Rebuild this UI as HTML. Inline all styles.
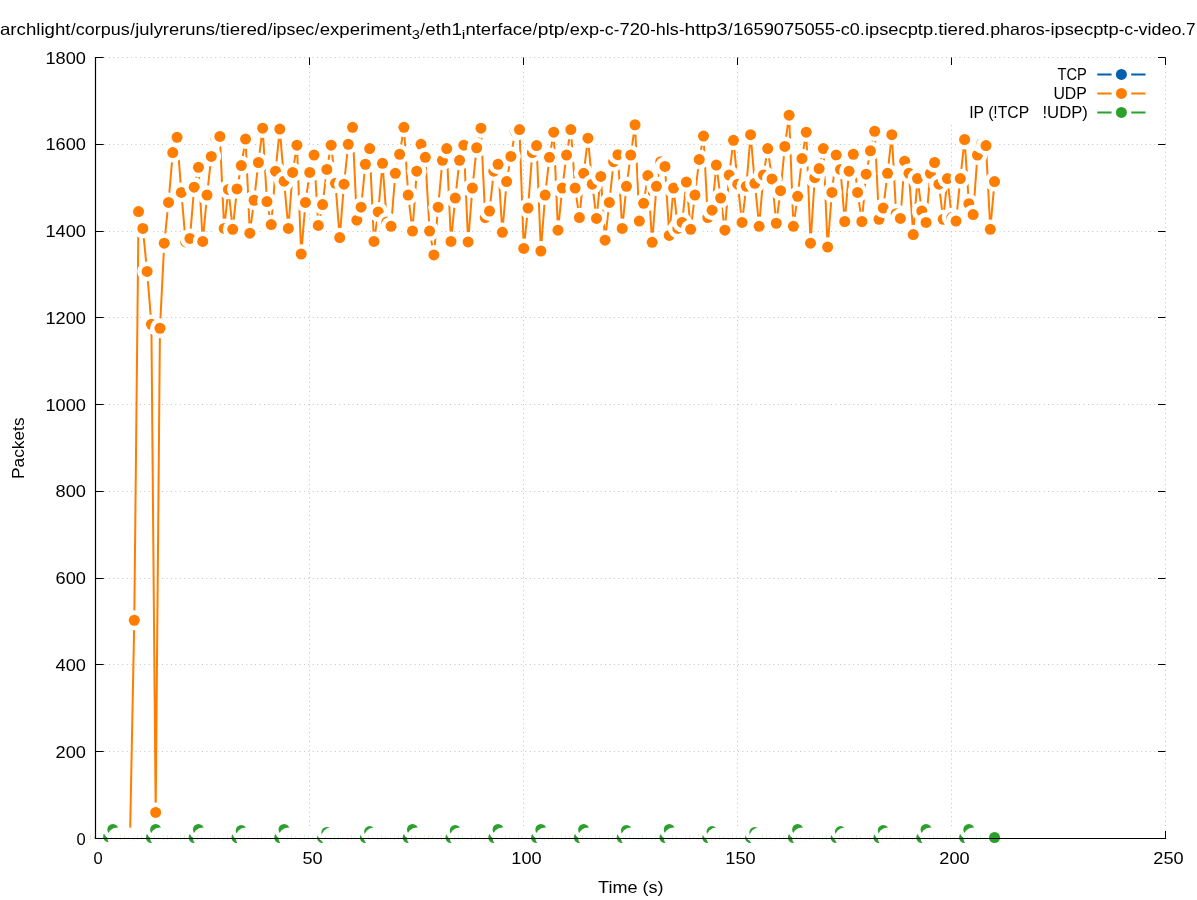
<!DOCTYPE html>
<html><head><meta charset="utf-8"><title>Packets over time</title>
<style>
html,body{margin:0;padding:0;background:#fff;}
body{width:1197px;height:900px;overflow:hidden;position:relative;font-family:"Liberation Sans",sans-serif;}
</style></head><body>
<div style="position:absolute;left:0;top:0;width:1197px;height:900px;will-change:transform">
<svg width="1197" height="900" viewBox="0 0 1197 900" style="display:block;position:absolute;left:0;top:0">
<rect width="1197" height="900" fill="#fff"/>
<g><path d="M104.5,838.5 H1165.5" stroke="#c2c2c2" stroke-width="1" stroke-dasharray="1 3.43" fill="none"/><path d="M104.5,751.5 H1165.5" stroke="#c2c2c2" stroke-width="1" stroke-dasharray="1 3.43" fill="none"/><path d="M104.5,664.5 H1165.5" stroke="#c2c2c2" stroke-width="1" stroke-dasharray="1 3.43" fill="none"/><path d="M104.5,578.5 H1165.5" stroke="#c2c2c2" stroke-width="1" stroke-dasharray="1 3.43" fill="none"/><path d="M104.5,491.5 H1165.5" stroke="#c2c2c2" stroke-width="1" stroke-dasharray="1 3.43" fill="none"/><path d="M104.5,404.5 H1165.5" stroke="#c2c2c2" stroke-width="1" stroke-dasharray="1 3.43" fill="none"/><path d="M104.5,317.5 H1165.5" stroke="#c2c2c2" stroke-width="1" stroke-dasharray="1 3.43" fill="none"/><path d="M104.5,231.5 H1165.5" stroke="#c2c2c2" stroke-width="1" stroke-dasharray="1 3.43" fill="none"/><path d="M104.5,144.5 H1165.5" stroke="#c2c2c2" stroke-width="1" stroke-dasharray="1 3.43" fill="none"/><path d="M104.5,57.5 H1165.5" stroke="#c2c2c2" stroke-width="1" stroke-dasharray="1 3.43" fill="none"/><path d="M309.5,830.5 V57.5" stroke="#c2c2c2" stroke-width="1" stroke-dasharray="1 3.43" fill="none"/><path d="M523.5,830.5 V57.5" stroke="#c2c2c2" stroke-width="1" stroke-dasharray="1 3.43" fill="none"/><path d="M737.5,830.5 V57.5" stroke="#c2c2c2" stroke-width="1" stroke-dasharray="1 3.43" fill="none"/><path d="M951.5,830.5 V123.5" stroke="#c2c2c2" stroke-width="1" stroke-dasharray="1 3.43" fill="none"/><path d="M1165.5,830.5 V57.5" stroke="#c2c2c2" stroke-width="1" stroke-dasharray="1 3.43" fill="none"/></g>
<path d="M95.5,838.5 h8.2 M1165.5,838.5 h-7.5 M95.5,751.5 h8.2 M1165.5,751.5 h-7.5 M95.5,664.5 h8.2 M1165.5,664.5 h-7.5 M95.5,578.5 h8.2 M1165.5,578.5 h-7.5 M95.5,491.5 h8.2 M1165.5,491.5 h-7.5 M95.5,404.5 h8.2 M1165.5,404.5 h-7.5 M95.5,317.5 h8.2 M1165.5,317.5 h-7.5 M95.5,231.5 h8.2 M1165.5,231.5 h-7.5 M95.5,144.5 h8.2 M1165.5,144.5 h-7.5 M95.5,57.5 h8.2 M1165.5,57.5 h-7.5 M95.5,838.5 v-7.5 M95.5,57.5 v7.5 M309.5,838.5 v-7.5 M309.5,57.5 v7.5 M523.5,838.5 v-7.5 M523.5,57.5 v7.5 M737.5,838.5 v-7.5 M737.5,57.5 v7.5 M951.5,838.5 v-7.5 M951.5,57.5 v7.5 M1165.5,838.5 v-7.5 M1165.5,57.5 v7.5" stroke="#000" stroke-width="1" fill="none"/>
<g font-family="'Liberation Sans', sans-serif" fill="#000"><text x="0.0" y="35" font-size="16.5" text-anchor="start" textLength="70.49" lengthAdjust="spacingAndGlyphs">archlight</text>
<text x="70.9" y="35" font-size="16.5" text-anchor="start">/</text>
<text x="75.89" y="35" font-size="16.5" text-anchor="start" textLength="53.85" lengthAdjust="spacingAndGlyphs">corpus</text>
<text x="130.14" y="35" font-size="16.5" text-anchor="start">/</text>
<text x="135.29" y="35" font-size="16.5" text-anchor="start" textLength="79.68" lengthAdjust="spacingAndGlyphs">julyreruns</text>
<text x="215.37" y="35" font-size="16.5" text-anchor="start">/</text>
<text x="220.36" y="35" font-size="16.5" text-anchor="start" textLength="46.89" lengthAdjust="spacingAndGlyphs">tiered</text>
<text x="267.65" y="35" font-size="16.5" text-anchor="start">/</text>
<text x="272.65" y="35" font-size="16.5" text-anchor="start" textLength="41.66" lengthAdjust="spacingAndGlyphs">ipsec</text>
<text x="314.72" y="35" font-size="16.5" text-anchor="start">/</text>
<text x="319.71" y="35" font-size="16.5" text-anchor="start" textLength="92.08" lengthAdjust="spacingAndGlyphs">experiment</text>
<text x="411.79" y="38.8" font-size="13.0" text-anchor="start" textLength="8.16" lengthAdjust="spacingAndGlyphs">3</text>
<text x="420.36" y="35" font-size="16.5" text-anchor="start">/</text>
<text x="425.35" y="35" font-size="16.5" text-anchor="start" textLength="36.49" lengthAdjust="spacingAndGlyphs">eth1</text>
<text x="461.85" y="38.8" font-size="13.0" text-anchor="start" textLength="3.57" lengthAdjust="spacingAndGlyphs">i</text>
<text x="465.41" y="35" font-size="16.5" text-anchor="start" textLength="67.02" lengthAdjust="spacingAndGlyphs">nterface</text>
<text x="532.83" y="35" font-size="16.5" text-anchor="start">/</text>
<text x="537.83" y="35" font-size="16.5" text-anchor="start" textLength="26.63" lengthAdjust="spacingAndGlyphs">ptp</text>
<text x="564.86" y="35" font-size="16.5" text-anchor="start">/</text>
<text x="569.85" y="35" font-size="16.5" text-anchor="start" textLength="29.24" lengthAdjust="spacingAndGlyphs">exp</text>
<text x="599.23" y="35" font-size="16.5" text-anchor="start">-</text>
<text x="604.87" y="35" font-size="16.5" text-anchor="start" textLength="8.81" lengthAdjust="spacingAndGlyphs">c</text>
<text x="613.82" y="35" font-size="16.5" text-anchor="start">-</text>
<text x="619.46" y="35" font-size="16.5" text-anchor="start" textLength="30.59" lengthAdjust="spacingAndGlyphs">720</text>
<text x="650.19" y="35" font-size="16.5" text-anchor="start">-</text>
<text x="655.83" y="35" font-size="16.5" text-anchor="start" textLength="22.96" lengthAdjust="spacingAndGlyphs">hls</text>
<text x="678.93" y="35" font-size="16.5" text-anchor="start">-</text>
<text x="684.57" y="35" font-size="16.5" text-anchor="start" textLength="43.09" lengthAdjust="spacingAndGlyphs">http3</text>
<text x="728.07" y="35" font-size="16.5" text-anchor="start">/</text>
<text x="733.06" y="35" font-size="16.5" text-anchor="start" textLength="101.95" lengthAdjust="spacingAndGlyphs">1659075055</text>
<text x="835.16" y="35" font-size="16.5" text-anchor="start">-</text>
<text x="840.8" y="35" font-size="16.5" text-anchor="start" textLength="19.01" lengthAdjust="spacingAndGlyphs">c0</text>
<text x="860.06" y="35" font-size="16.5" text-anchor="start">.</text>
<text x="864.9" y="35" font-size="16.5" text-anchor="start" textLength="68.28" lengthAdjust="spacingAndGlyphs">ipsecptp</text>
<text x="933.42" y="35" font-size="16.5" text-anchor="start">.</text>
<text x="938.26" y="35" font-size="16.5" text-anchor="start" textLength="46.82" lengthAdjust="spacingAndGlyphs">tiered</text>
<text x="985.32" y="35" font-size="16.5" text-anchor="start">.</text>
<text x="990.16" y="35" font-size="16.5" text-anchor="start" textLength="54.48" lengthAdjust="spacingAndGlyphs">pharos</text>
<text x="1044.78" y="35" font-size="16.5" text-anchor="start">-</text>
<text x="1050.41" y="35" font-size="16.5" text-anchor="start" textLength="68.2" lengthAdjust="spacingAndGlyphs">ipsecptp</text>
<text x="1118.75" y="35" font-size="16.5" text-anchor="start">-</text>
<text x="1124.39" y="35" font-size="16.5" text-anchor="start" textLength="8.8" lengthAdjust="spacingAndGlyphs">c</text>
<text x="1133.31" y="35" font-size="16.5" text-anchor="start">-</text>
<text x="1138.5" y="35" font-size="16.5" text-anchor="start" textLength="42.89" lengthAdjust="spacingAndGlyphs">video</text>
<text x="1181.25" y="35" font-size="16.5" text-anchor="start">.</text>
<text x="1185.99" y="35" font-size="16.5" text-anchor="start" textLength="9.55" lengthAdjust="spacingAndGlyphs">7</text>
<text x="85.7" y="844.5" font-size="16.5" text-anchor="end">0</text>
<text x="86.0" y="757.7" font-size="16.5" text-anchor="end" textLength="30.4" lengthAdjust="spacingAndGlyphs">200</text>
<text x="86.0" y="670.9" font-size="16.5" text-anchor="end" textLength="30.4" lengthAdjust="spacingAndGlyphs">400</text>
<text x="86.0" y="584.2" font-size="16.5" text-anchor="end" textLength="30.4" lengthAdjust="spacingAndGlyphs">600</text>
<text x="86.0" y="497.4" font-size="16.5" text-anchor="end" textLength="30.4" lengthAdjust="spacingAndGlyphs">800</text>
<text x="86.0" y="410.6" font-size="16.5" text-anchor="end" textLength="40.6" lengthAdjust="spacingAndGlyphs">1000</text>
<text x="86.0" y="323.8" font-size="16.5" text-anchor="end" textLength="40.6" lengthAdjust="spacingAndGlyphs">1200</text>
<text x="86.0" y="237.1" font-size="16.5" text-anchor="end" textLength="40.6" lengthAdjust="spacingAndGlyphs">1400</text>
<text x="86.0" y="150.3" font-size="16.5" text-anchor="end" textLength="40.6" lengthAdjust="spacingAndGlyphs">1600</text>
<text x="86.0" y="63.5" font-size="16.5" text-anchor="end" textLength="40.6" lengthAdjust="spacingAndGlyphs">1800</text>
<text x="98.1" y="864" font-size="16.5" text-anchor="middle">0</text>
<text x="312.5" y="864" font-size="16.5" text-anchor="middle" textLength="20.2" lengthAdjust="spacingAndGlyphs">50</text>
<text x="526.5" y="864" font-size="16.5" text-anchor="middle" textLength="30.3" lengthAdjust="spacingAndGlyphs">100</text>
<text x="740.5" y="864" font-size="16.5" text-anchor="middle" textLength="30.3" lengthAdjust="spacingAndGlyphs">150</text>
<text x="954.5" y="864" font-size="16.5" text-anchor="middle" textLength="30.3" lengthAdjust="spacingAndGlyphs">200</text>
<text x="1168.5" y="864" font-size="16.5" text-anchor="middle" textLength="30.3" lengthAdjust="spacingAndGlyphs">250</text>
<text x="630.8" y="892.5" font-size="16.5" text-anchor="middle" textLength="65.5" lengthAdjust="spacingAndGlyphs">Time (s)</text>
<text transform="translate(24.0,448.2) rotate(-90)" font-size="16.5" text-anchor="middle" textLength="61.5" lengthAdjust="spacingAndGlyphs">Packets</text>
<text x="1086.8" y="79.8" font-size="16.5" text-anchor="end" textLength="29.3" lengthAdjust="spacingAndGlyphs">TCP</text>
<text x="1086.8" y="98.8" font-size="16.5" text-anchor="end" textLength="33.4" lengthAdjust="spacingAndGlyphs">UDP</text>
<text x="969.2" y="117.8" font-size="16.5" text-anchor="start" textLength="60" lengthAdjust="spacingAndGlyphs">IP (!TCP</text>
<text x="1087.8" y="117.8" font-size="16.5" text-anchor="end" textLength="45.3" lengthAdjust="spacingAndGlyphs">!UDP)</text></g>
<path d="M1097.3,74.4 H1145.5" stroke="#0060ad" stroke-width="2"/><circle cx="1121.4" cy="74.4" r="9.9" fill="#fff"/><circle cx="1121.4" cy="74.4" r="5.5" fill="#0060ad"/>
<path d="M1097.3,93.4 H1145.5" stroke="#ff7d00" stroke-width="2"/><circle cx="1121.4" cy="93.4" r="9.9" fill="#fff"/><circle cx="1121.4" cy="93.4" r="5.5" fill="#ff7d00"/>
<path d="M1097.3,112.4 H1145.5" stroke="#2ca02c" stroke-width="2"/><circle cx="1121.4" cy="112.4" r="9.9" fill="#fff"/><circle cx="1121.4" cy="112.4" r="5.5" fill="#2ca02c"/>
<g id="udp"><path d="M129.99,838.50 L134.27,620.25 L138.55,211.53 L142.83,228.45 L147.11,271.41 L151.39,324.34 L155.67,812.47 L159.95,328.25 L164.23,243.20 L168.51,202.42 L172.79,152.52 L177.07,137.34 L181.35,192.44 L185.63,241.90 L189.91,238.43 L194.19,187.23 L198.47,167.27 L202.75,241.47 L207.03,195.04 L211.31,156.43 L215.59,137.77 L219.87,136.47 L224.15,228.45 L228.43,189.40 L232.71,229.32 L236.99,188.97 L241.27,165.54 L245.55,139.07 L249.83,233.23 L254.11,200.25 L258.39,162.50 L262.67,128.22 L266.95,201.55 L271.23,224.55 L275.51,171.18 L279.79,129.09 L284.07,181.16 L288.35,228.45 L292.63,172.48 L296.91,145.15 L301.19,254.05 L305.47,202.42 L309.75,172.48 L314.03,155.12 L318.31,225.41 L322.59,204.59 L326.87,169.44 L331.15,145.15 L335.43,183.33 L339.71,237.56 L343.99,184.20 L348.27,144.28 L352.55,127.36 L356.83,220.21 L361.11,207.19 L365.39,164.24 L369.67,148.62 L373.95,241.47 L378.23,211.96 L382.51,163.37 L386.79,221.94 L391.07,226.28 L395.35,173.35 L399.63,154.26 L403.91,127.36 L408.19,195.04 L412.47,231.06 L416.75,171.18 L421.03,144.28 L425.31,157.29 L429.59,231.06 L433.87,254.92 L438.15,207.19 L442.43,160.33 L446.71,148.62 L450.99,241.47 L455.27,198.08 L459.55,160.33 L463.83,145.15 L468.11,241.90 L472.39,188.10 L476.67,147.75 L480.95,128.22 L485.23,217.61 L489.51,211.10 L493.79,171.18 L498.07,164.24 L502.35,232.36 L506.63,181.59 L510.91,156.43 L515.19,131.26 L519.47,129.53 L523.75,248.41 L528.03,208.06 L532.31,152.52 L536.59,145.58 L540.87,251.01 L545.15,195.04 L549.43,157.29 L553.71,132.13 L557.99,230.19 L562.27,188.10 L566.55,155.12 L570.83,129.53 L575.11,188.10 L579.39,217.61 L583.67,173.35 L587.95,138.20 L592.23,184.20 L596.51,218.47 L600.79,176.39 L605.07,240.17 L609.35,202.42 L613.63,161.63 L617.91,154.69 L622.19,228.45 L626.47,186.37 L630.75,155.12 L635.03,124.75 L639.31,221.08 L643.59,203.29 L647.87,175.52 L652.15,242.34 L656.43,186.37 L660.71,161.63 L664.99,166.41 L669.27,235.39 L673.55,188.10 L677.83,228.45 L682.11,222.38 L686.39,182.03 L690.67,229.32 L694.95,195.04 L699.23,159.46 L703.51,136.03 L707.79,217.61 L712.07,210.23 L716.35,165.10 L720.63,198.08 L724.91,230.19 L729.19,175.08 L733.47,140.37 L737.75,184.20 L742.03,222.38 L746.31,186.37 L750.59,134.73 L754.87,183.33 L759.15,226.28 L763.43,175.08 L767.71,148.62 L771.99,178.99 L776.27,223.25 L780.55,190.70 L784.83,146.45 L789.11,115.21 L793.39,226.28 L797.67,196.34 L801.95,158.60 L806.23,132.13 L810.51,243.20 L814.79,177.69 L819.07,168.58 L823.35,148.62 L827.63,247.11 L831.91,192.44 L836.19,155.12 L840.47,169.44 L844.75,221.51 L849.03,171.18 L853.31,154.26 L857.59,192.44 L861.87,221.51 L866.15,174.22 L870.43,150.79 L874.71,131.26 L878.99,219.34 L883.27,208.06 L887.55,173.35 L891.83,134.73 L896.11,213.70 L900.39,218.47 L904.67,161.20 L908.95,173.35 L913.23,234.53 L917.51,178.55 L921.79,211.10 L926.07,222.38 L930.35,173.35 L934.63,162.50 L938.91,184.20 L943.19,219.34 L947.47,178.55 L951.75,217.61 L956.03,221.08 L960.31,178.55 L964.59,139.50 L968.87,203.72 L973.15,214.57 L977.43,155.12 L981.71,143.41 L985.99,145.58 L990.27,229.32 L994.55,181.59" fill="none" stroke="#ff7d00" stroke-width="2" stroke-linejoin="round"/>
<circle cx="129.99" cy="838.50" r="9.9" fill="#fff"/><circle cx="129.99" cy="838.50" r="5.5" fill="#ff7d00"/>
<circle cx="134.27" cy="620.25" r="9.9" fill="#fff"/><circle cx="134.27" cy="620.25" r="5.5" fill="#ff7d00"/>
<circle cx="138.55" cy="211.53" r="9.9" fill="#fff"/><circle cx="138.55" cy="211.53" r="5.5" fill="#ff7d00"/>
<circle cx="142.83" cy="228.45" r="9.9" fill="#fff"/><circle cx="142.83" cy="228.45" r="5.5" fill="#ff7d00"/>
<circle cx="147.11" cy="271.41" r="9.9" fill="#fff"/><circle cx="147.11" cy="271.41" r="5.5" fill="#ff7d00"/>
<circle cx="151.39" cy="324.34" r="9.9" fill="#fff"/><circle cx="151.39" cy="324.34" r="5.5" fill="#ff7d00"/>
<circle cx="155.67" cy="812.47" r="9.9" fill="#fff"/><circle cx="155.67" cy="812.47" r="5.5" fill="#ff7d00"/>
<circle cx="159.95" cy="328.25" r="9.9" fill="#fff"/><circle cx="159.95" cy="328.25" r="5.5" fill="#ff7d00"/>
<circle cx="164.23" cy="243.20" r="9.9" fill="#fff"/><circle cx="164.23" cy="243.20" r="5.5" fill="#ff7d00"/>
<circle cx="168.51" cy="202.42" r="9.9" fill="#fff"/><circle cx="168.51" cy="202.42" r="5.5" fill="#ff7d00"/>
<circle cx="172.79" cy="152.52" r="9.9" fill="#fff"/><circle cx="172.79" cy="152.52" r="5.5" fill="#ff7d00"/>
<circle cx="177.07" cy="137.34" r="9.9" fill="#fff"/><circle cx="177.07" cy="137.34" r="5.5" fill="#ff7d00"/>
<circle cx="181.35" cy="192.44" r="9.9" fill="#fff"/><circle cx="181.35" cy="192.44" r="5.5" fill="#ff7d00"/>
<circle cx="185.63" cy="241.90" r="9.9" fill="#fff"/><circle cx="185.63" cy="241.90" r="5.5" fill="#ff7d00"/>
<circle cx="189.91" cy="238.43" r="9.9" fill="#fff"/><circle cx="189.91" cy="238.43" r="5.5" fill="#ff7d00"/>
<circle cx="194.19" cy="187.23" r="9.9" fill="#fff"/><circle cx="194.19" cy="187.23" r="5.5" fill="#ff7d00"/>
<circle cx="198.47" cy="167.27" r="9.9" fill="#fff"/><circle cx="198.47" cy="167.27" r="5.5" fill="#ff7d00"/>
<circle cx="202.75" cy="241.47" r="9.9" fill="#fff"/><circle cx="202.75" cy="241.47" r="5.5" fill="#ff7d00"/>
<circle cx="207.03" cy="195.04" r="9.9" fill="#fff"/><circle cx="207.03" cy="195.04" r="5.5" fill="#ff7d00"/>
<circle cx="211.31" cy="156.43" r="9.9" fill="#fff"/><circle cx="211.31" cy="156.43" r="5.5" fill="#ff7d00"/>
<circle cx="215.59" cy="137.77" r="9.9" fill="#fff"/><circle cx="215.59" cy="137.77" r="5.5" fill="#ff7d00"/>
<circle cx="219.87" cy="136.47" r="9.9" fill="#fff"/><circle cx="219.87" cy="136.47" r="5.5" fill="#ff7d00"/>
<circle cx="224.15" cy="228.45" r="9.9" fill="#fff"/><circle cx="224.15" cy="228.45" r="5.5" fill="#ff7d00"/>
<circle cx="228.43" cy="189.40" r="9.9" fill="#fff"/><circle cx="228.43" cy="189.40" r="5.5" fill="#ff7d00"/>
<circle cx="232.71" cy="229.32" r="9.9" fill="#fff"/><circle cx="232.71" cy="229.32" r="5.5" fill="#ff7d00"/>
<circle cx="236.99" cy="188.97" r="9.9" fill="#fff"/><circle cx="236.99" cy="188.97" r="5.5" fill="#ff7d00"/>
<circle cx="241.27" cy="165.54" r="9.9" fill="#fff"/><circle cx="241.27" cy="165.54" r="5.5" fill="#ff7d00"/>
<circle cx="245.55" cy="139.07" r="9.9" fill="#fff"/><circle cx="245.55" cy="139.07" r="5.5" fill="#ff7d00"/>
<circle cx="249.83" cy="233.23" r="9.9" fill="#fff"/><circle cx="249.83" cy="233.23" r="5.5" fill="#ff7d00"/>
<circle cx="254.11" cy="200.25" r="9.9" fill="#fff"/><circle cx="254.11" cy="200.25" r="5.5" fill="#ff7d00"/>
<circle cx="258.39" cy="162.50" r="9.9" fill="#fff"/><circle cx="258.39" cy="162.50" r="5.5" fill="#ff7d00"/>
<circle cx="262.67" cy="128.22" r="9.9" fill="#fff"/><circle cx="262.67" cy="128.22" r="5.5" fill="#ff7d00"/>
<circle cx="266.95" cy="201.55" r="9.9" fill="#fff"/><circle cx="266.95" cy="201.55" r="5.5" fill="#ff7d00"/>
<circle cx="271.23" cy="224.55" r="9.9" fill="#fff"/><circle cx="271.23" cy="224.55" r="5.5" fill="#ff7d00"/>
<circle cx="275.51" cy="171.18" r="9.9" fill="#fff"/><circle cx="275.51" cy="171.18" r="5.5" fill="#ff7d00"/>
<circle cx="279.79" cy="129.09" r="9.9" fill="#fff"/><circle cx="279.79" cy="129.09" r="5.5" fill="#ff7d00"/>
<circle cx="284.07" cy="181.16" r="9.9" fill="#fff"/><circle cx="284.07" cy="181.16" r="5.5" fill="#ff7d00"/>
<circle cx="288.35" cy="228.45" r="9.9" fill="#fff"/><circle cx="288.35" cy="228.45" r="5.5" fill="#ff7d00"/>
<circle cx="292.63" cy="172.48" r="9.9" fill="#fff"/><circle cx="292.63" cy="172.48" r="5.5" fill="#ff7d00"/>
<circle cx="296.91" cy="145.15" r="9.9" fill="#fff"/><circle cx="296.91" cy="145.15" r="5.5" fill="#ff7d00"/>
<circle cx="301.19" cy="254.05" r="9.9" fill="#fff"/><circle cx="301.19" cy="254.05" r="5.5" fill="#ff7d00"/>
<circle cx="305.47" cy="202.42" r="9.9" fill="#fff"/><circle cx="305.47" cy="202.42" r="5.5" fill="#ff7d00"/>
<circle cx="309.75" cy="172.48" r="9.9" fill="#fff"/><circle cx="309.75" cy="172.48" r="5.5" fill="#ff7d00"/>
<circle cx="314.03" cy="155.12" r="9.9" fill="#fff"/><circle cx="314.03" cy="155.12" r="5.5" fill="#ff7d00"/>
<circle cx="318.31" cy="225.41" r="9.9" fill="#fff"/><circle cx="318.31" cy="225.41" r="5.5" fill="#ff7d00"/>
<circle cx="322.59" cy="204.59" r="9.9" fill="#fff"/><circle cx="322.59" cy="204.59" r="5.5" fill="#ff7d00"/>
<circle cx="326.87" cy="169.44" r="9.9" fill="#fff"/><circle cx="326.87" cy="169.44" r="5.5" fill="#ff7d00"/>
<circle cx="331.15" cy="145.15" r="9.9" fill="#fff"/><circle cx="331.15" cy="145.15" r="5.5" fill="#ff7d00"/>
<circle cx="335.43" cy="183.33" r="9.9" fill="#fff"/><circle cx="335.43" cy="183.33" r="5.5" fill="#ff7d00"/>
<circle cx="339.71" cy="237.56" r="9.9" fill="#fff"/><circle cx="339.71" cy="237.56" r="5.5" fill="#ff7d00"/>
<circle cx="343.99" cy="184.20" r="9.9" fill="#fff"/><circle cx="343.99" cy="184.20" r="5.5" fill="#ff7d00"/>
<circle cx="348.27" cy="144.28" r="9.9" fill="#fff"/><circle cx="348.27" cy="144.28" r="5.5" fill="#ff7d00"/>
<circle cx="352.55" cy="127.36" r="9.9" fill="#fff"/><circle cx="352.55" cy="127.36" r="5.5" fill="#ff7d00"/>
<circle cx="356.83" cy="220.21" r="9.9" fill="#fff"/><circle cx="356.83" cy="220.21" r="5.5" fill="#ff7d00"/>
<circle cx="361.11" cy="207.19" r="9.9" fill="#fff"/><circle cx="361.11" cy="207.19" r="5.5" fill="#ff7d00"/>
<circle cx="365.39" cy="164.24" r="9.9" fill="#fff"/><circle cx="365.39" cy="164.24" r="5.5" fill="#ff7d00"/>
<circle cx="369.67" cy="148.62" r="9.9" fill="#fff"/><circle cx="369.67" cy="148.62" r="5.5" fill="#ff7d00"/>
<circle cx="373.95" cy="241.47" r="9.9" fill="#fff"/><circle cx="373.95" cy="241.47" r="5.5" fill="#ff7d00"/>
<circle cx="378.23" cy="211.96" r="9.9" fill="#fff"/><circle cx="378.23" cy="211.96" r="5.5" fill="#ff7d00"/>
<circle cx="382.51" cy="163.37" r="9.9" fill="#fff"/><circle cx="382.51" cy="163.37" r="5.5" fill="#ff7d00"/>
<circle cx="386.79" cy="221.94" r="9.9" fill="#fff"/><circle cx="386.79" cy="221.94" r="5.5" fill="#ff7d00"/>
<circle cx="391.07" cy="226.28" r="9.9" fill="#fff"/><circle cx="391.07" cy="226.28" r="5.5" fill="#ff7d00"/>
<circle cx="395.35" cy="173.35" r="9.9" fill="#fff"/><circle cx="395.35" cy="173.35" r="5.5" fill="#ff7d00"/>
<circle cx="399.63" cy="154.26" r="9.9" fill="#fff"/><circle cx="399.63" cy="154.26" r="5.5" fill="#ff7d00"/>
<circle cx="403.91" cy="127.36" r="9.9" fill="#fff"/><circle cx="403.91" cy="127.36" r="5.5" fill="#ff7d00"/>
<circle cx="408.19" cy="195.04" r="9.9" fill="#fff"/><circle cx="408.19" cy="195.04" r="5.5" fill="#ff7d00"/>
<circle cx="412.47" cy="231.06" r="9.9" fill="#fff"/><circle cx="412.47" cy="231.06" r="5.5" fill="#ff7d00"/>
<circle cx="416.75" cy="171.18" r="9.9" fill="#fff"/><circle cx="416.75" cy="171.18" r="5.5" fill="#ff7d00"/>
<circle cx="421.03" cy="144.28" r="9.9" fill="#fff"/><circle cx="421.03" cy="144.28" r="5.5" fill="#ff7d00"/>
<circle cx="425.31" cy="157.29" r="9.9" fill="#fff"/><circle cx="425.31" cy="157.29" r="5.5" fill="#ff7d00"/>
<circle cx="429.59" cy="231.06" r="9.9" fill="#fff"/><circle cx="429.59" cy="231.06" r="5.5" fill="#ff7d00"/>
<circle cx="433.87" cy="254.92" r="9.9" fill="#fff"/><circle cx="433.87" cy="254.92" r="5.5" fill="#ff7d00"/>
<circle cx="438.15" cy="207.19" r="9.9" fill="#fff"/><circle cx="438.15" cy="207.19" r="5.5" fill="#ff7d00"/>
<circle cx="442.43" cy="160.33" r="9.9" fill="#fff"/><circle cx="442.43" cy="160.33" r="5.5" fill="#ff7d00"/>
<circle cx="446.71" cy="148.62" r="9.9" fill="#fff"/><circle cx="446.71" cy="148.62" r="5.5" fill="#ff7d00"/>
<circle cx="450.99" cy="241.47" r="9.9" fill="#fff"/><circle cx="450.99" cy="241.47" r="5.5" fill="#ff7d00"/>
<circle cx="455.27" cy="198.08" r="9.9" fill="#fff"/><circle cx="455.27" cy="198.08" r="5.5" fill="#ff7d00"/>
<circle cx="459.55" cy="160.33" r="9.9" fill="#fff"/><circle cx="459.55" cy="160.33" r="5.5" fill="#ff7d00"/>
<circle cx="463.83" cy="145.15" r="9.9" fill="#fff"/><circle cx="463.83" cy="145.15" r="5.5" fill="#ff7d00"/>
<circle cx="468.11" cy="241.90" r="9.9" fill="#fff"/><circle cx="468.11" cy="241.90" r="5.5" fill="#ff7d00"/>
<circle cx="472.39" cy="188.10" r="9.9" fill="#fff"/><circle cx="472.39" cy="188.10" r="5.5" fill="#ff7d00"/>
<circle cx="476.67" cy="147.75" r="9.9" fill="#fff"/><circle cx="476.67" cy="147.75" r="5.5" fill="#ff7d00"/>
<circle cx="480.95" cy="128.22" r="9.9" fill="#fff"/><circle cx="480.95" cy="128.22" r="5.5" fill="#ff7d00"/>
<circle cx="485.23" cy="217.61" r="9.9" fill="#fff"/><circle cx="485.23" cy="217.61" r="5.5" fill="#ff7d00"/>
<circle cx="489.51" cy="211.10" r="9.9" fill="#fff"/><circle cx="489.51" cy="211.10" r="5.5" fill="#ff7d00"/>
<circle cx="493.79" cy="171.18" r="9.9" fill="#fff"/><circle cx="493.79" cy="171.18" r="5.5" fill="#ff7d00"/>
<circle cx="498.07" cy="164.24" r="9.9" fill="#fff"/><circle cx="498.07" cy="164.24" r="5.5" fill="#ff7d00"/>
<circle cx="502.35" cy="232.36" r="9.9" fill="#fff"/><circle cx="502.35" cy="232.36" r="5.5" fill="#ff7d00"/>
<circle cx="506.63" cy="181.59" r="9.9" fill="#fff"/><circle cx="506.63" cy="181.59" r="5.5" fill="#ff7d00"/>
<circle cx="510.91" cy="156.43" r="9.9" fill="#fff"/><circle cx="510.91" cy="156.43" r="5.5" fill="#ff7d00"/>
<circle cx="515.19" cy="131.26" r="9.9" fill="#fff"/><circle cx="515.19" cy="131.26" r="5.5" fill="#ff7d00"/>
<circle cx="519.47" cy="129.53" r="9.9" fill="#fff"/><circle cx="519.47" cy="129.53" r="5.5" fill="#ff7d00"/>
<circle cx="523.75" cy="248.41" r="9.9" fill="#fff"/><circle cx="523.75" cy="248.41" r="5.5" fill="#ff7d00"/>
<circle cx="528.03" cy="208.06" r="9.9" fill="#fff"/><circle cx="528.03" cy="208.06" r="5.5" fill="#ff7d00"/>
<circle cx="532.31" cy="152.52" r="9.9" fill="#fff"/><circle cx="532.31" cy="152.52" r="5.5" fill="#ff7d00"/>
<circle cx="536.59" cy="145.58" r="9.9" fill="#fff"/><circle cx="536.59" cy="145.58" r="5.5" fill="#ff7d00"/>
<circle cx="540.87" cy="251.01" r="9.9" fill="#fff"/><circle cx="540.87" cy="251.01" r="5.5" fill="#ff7d00"/>
<circle cx="545.15" cy="195.04" r="9.9" fill="#fff"/><circle cx="545.15" cy="195.04" r="5.5" fill="#ff7d00"/>
<circle cx="549.43" cy="157.29" r="9.9" fill="#fff"/><circle cx="549.43" cy="157.29" r="5.5" fill="#ff7d00"/>
<circle cx="553.71" cy="132.13" r="9.9" fill="#fff"/><circle cx="553.71" cy="132.13" r="5.5" fill="#ff7d00"/>
<circle cx="557.99" cy="230.19" r="9.9" fill="#fff"/><circle cx="557.99" cy="230.19" r="5.5" fill="#ff7d00"/>
<circle cx="562.27" cy="188.10" r="9.9" fill="#fff"/><circle cx="562.27" cy="188.10" r="5.5" fill="#ff7d00"/>
<circle cx="566.55" cy="155.12" r="9.9" fill="#fff"/><circle cx="566.55" cy="155.12" r="5.5" fill="#ff7d00"/>
<circle cx="570.83" cy="129.53" r="9.9" fill="#fff"/><circle cx="570.83" cy="129.53" r="5.5" fill="#ff7d00"/>
<circle cx="575.11" cy="188.10" r="9.9" fill="#fff"/><circle cx="575.11" cy="188.10" r="5.5" fill="#ff7d00"/>
<circle cx="579.39" cy="217.61" r="9.9" fill="#fff"/><circle cx="579.39" cy="217.61" r="5.5" fill="#ff7d00"/>
<circle cx="583.67" cy="173.35" r="9.9" fill="#fff"/><circle cx="583.67" cy="173.35" r="5.5" fill="#ff7d00"/>
<circle cx="587.95" cy="138.20" r="9.9" fill="#fff"/><circle cx="587.95" cy="138.20" r="5.5" fill="#ff7d00"/>
<circle cx="592.23" cy="184.20" r="9.9" fill="#fff"/><circle cx="592.23" cy="184.20" r="5.5" fill="#ff7d00"/>
<circle cx="596.51" cy="218.47" r="9.9" fill="#fff"/><circle cx="596.51" cy="218.47" r="5.5" fill="#ff7d00"/>
<circle cx="600.79" cy="176.39" r="9.9" fill="#fff"/><circle cx="600.79" cy="176.39" r="5.5" fill="#ff7d00"/>
<circle cx="605.07" cy="240.17" r="9.9" fill="#fff"/><circle cx="605.07" cy="240.17" r="5.5" fill="#ff7d00"/>
<circle cx="609.35" cy="202.42" r="9.9" fill="#fff"/><circle cx="609.35" cy="202.42" r="5.5" fill="#ff7d00"/>
<circle cx="613.63" cy="161.63" r="9.9" fill="#fff"/><circle cx="613.63" cy="161.63" r="5.5" fill="#ff7d00"/>
<circle cx="617.91" cy="154.69" r="9.9" fill="#fff"/><circle cx="617.91" cy="154.69" r="5.5" fill="#ff7d00"/>
<circle cx="622.19" cy="228.45" r="9.9" fill="#fff"/><circle cx="622.19" cy="228.45" r="5.5" fill="#ff7d00"/>
<circle cx="626.47" cy="186.37" r="9.9" fill="#fff"/><circle cx="626.47" cy="186.37" r="5.5" fill="#ff7d00"/>
<circle cx="630.75" cy="155.12" r="9.9" fill="#fff"/><circle cx="630.75" cy="155.12" r="5.5" fill="#ff7d00"/>
<circle cx="635.03" cy="124.75" r="9.9" fill="#fff"/><circle cx="635.03" cy="124.75" r="5.5" fill="#ff7d00"/>
<circle cx="639.31" cy="221.08" r="9.9" fill="#fff"/><circle cx="639.31" cy="221.08" r="5.5" fill="#ff7d00"/>
<circle cx="643.59" cy="203.29" r="9.9" fill="#fff"/><circle cx="643.59" cy="203.29" r="5.5" fill="#ff7d00"/>
<circle cx="647.87" cy="175.52" r="9.9" fill="#fff"/><circle cx="647.87" cy="175.52" r="5.5" fill="#ff7d00"/>
<circle cx="652.15" cy="242.34" r="9.9" fill="#fff"/><circle cx="652.15" cy="242.34" r="5.5" fill="#ff7d00"/>
<circle cx="656.43" cy="186.37" r="9.9" fill="#fff"/><circle cx="656.43" cy="186.37" r="5.5" fill="#ff7d00"/>
<circle cx="660.71" cy="161.63" r="9.9" fill="#fff"/><circle cx="660.71" cy="161.63" r="5.5" fill="#ff7d00"/>
<circle cx="664.99" cy="166.41" r="9.9" fill="#fff"/><circle cx="664.99" cy="166.41" r="5.5" fill="#ff7d00"/>
<circle cx="669.27" cy="235.39" r="9.9" fill="#fff"/><circle cx="669.27" cy="235.39" r="5.5" fill="#ff7d00"/>
<circle cx="673.55" cy="188.10" r="9.9" fill="#fff"/><circle cx="673.55" cy="188.10" r="5.5" fill="#ff7d00"/>
<circle cx="677.83" cy="228.45" r="9.9" fill="#fff"/><circle cx="677.83" cy="228.45" r="5.5" fill="#ff7d00"/>
<circle cx="682.11" cy="222.38" r="9.9" fill="#fff"/><circle cx="682.11" cy="222.38" r="5.5" fill="#ff7d00"/>
<circle cx="686.39" cy="182.03" r="9.9" fill="#fff"/><circle cx="686.39" cy="182.03" r="5.5" fill="#ff7d00"/>
<circle cx="690.67" cy="229.32" r="9.9" fill="#fff"/><circle cx="690.67" cy="229.32" r="5.5" fill="#ff7d00"/>
<circle cx="694.95" cy="195.04" r="9.9" fill="#fff"/><circle cx="694.95" cy="195.04" r="5.5" fill="#ff7d00"/>
<circle cx="699.23" cy="159.46" r="9.9" fill="#fff"/><circle cx="699.23" cy="159.46" r="5.5" fill="#ff7d00"/>
<circle cx="703.51" cy="136.03" r="9.9" fill="#fff"/><circle cx="703.51" cy="136.03" r="5.5" fill="#ff7d00"/>
<circle cx="707.79" cy="217.61" r="9.9" fill="#fff"/><circle cx="707.79" cy="217.61" r="5.5" fill="#ff7d00"/>
<circle cx="712.07" cy="210.23" r="9.9" fill="#fff"/><circle cx="712.07" cy="210.23" r="5.5" fill="#ff7d00"/>
<circle cx="716.35" cy="165.10" r="9.9" fill="#fff"/><circle cx="716.35" cy="165.10" r="5.5" fill="#ff7d00"/>
<circle cx="720.63" cy="198.08" r="9.9" fill="#fff"/><circle cx="720.63" cy="198.08" r="5.5" fill="#ff7d00"/>
<circle cx="724.91" cy="230.19" r="9.9" fill="#fff"/><circle cx="724.91" cy="230.19" r="5.5" fill="#ff7d00"/>
<circle cx="729.19" cy="175.08" r="9.9" fill="#fff"/><circle cx="729.19" cy="175.08" r="5.5" fill="#ff7d00"/>
<circle cx="733.47" cy="140.37" r="9.9" fill="#fff"/><circle cx="733.47" cy="140.37" r="5.5" fill="#ff7d00"/>
<circle cx="737.75" cy="184.20" r="9.9" fill="#fff"/><circle cx="737.75" cy="184.20" r="5.5" fill="#ff7d00"/>
<circle cx="742.03" cy="222.38" r="9.9" fill="#fff"/><circle cx="742.03" cy="222.38" r="5.5" fill="#ff7d00"/>
<circle cx="746.31" cy="186.37" r="9.9" fill="#fff"/><circle cx="746.31" cy="186.37" r="5.5" fill="#ff7d00"/>
<circle cx="750.59" cy="134.73" r="9.9" fill="#fff"/><circle cx="750.59" cy="134.73" r="5.5" fill="#ff7d00"/>
<circle cx="754.87" cy="183.33" r="9.9" fill="#fff"/><circle cx="754.87" cy="183.33" r="5.5" fill="#ff7d00"/>
<circle cx="759.15" cy="226.28" r="9.9" fill="#fff"/><circle cx="759.15" cy="226.28" r="5.5" fill="#ff7d00"/>
<circle cx="763.43" cy="175.08" r="9.9" fill="#fff"/><circle cx="763.43" cy="175.08" r="5.5" fill="#ff7d00"/>
<circle cx="767.71" cy="148.62" r="9.9" fill="#fff"/><circle cx="767.71" cy="148.62" r="5.5" fill="#ff7d00"/>
<circle cx="771.99" cy="178.99" r="9.9" fill="#fff"/><circle cx="771.99" cy="178.99" r="5.5" fill="#ff7d00"/>
<circle cx="776.27" cy="223.25" r="9.9" fill="#fff"/><circle cx="776.27" cy="223.25" r="5.5" fill="#ff7d00"/>
<circle cx="780.55" cy="190.70" r="9.9" fill="#fff"/><circle cx="780.55" cy="190.70" r="5.5" fill="#ff7d00"/>
<circle cx="784.83" cy="146.45" r="9.9" fill="#fff"/><circle cx="784.83" cy="146.45" r="5.5" fill="#ff7d00"/>
<circle cx="789.11" cy="115.21" r="9.9" fill="#fff"/><circle cx="789.11" cy="115.21" r="5.5" fill="#ff7d00"/>
<circle cx="793.39" cy="226.28" r="9.9" fill="#fff"/><circle cx="793.39" cy="226.28" r="5.5" fill="#ff7d00"/>
<circle cx="797.67" cy="196.34" r="9.9" fill="#fff"/><circle cx="797.67" cy="196.34" r="5.5" fill="#ff7d00"/>
<circle cx="801.95" cy="158.60" r="9.9" fill="#fff"/><circle cx="801.95" cy="158.60" r="5.5" fill="#ff7d00"/>
<circle cx="806.23" cy="132.13" r="9.9" fill="#fff"/><circle cx="806.23" cy="132.13" r="5.5" fill="#ff7d00"/>
<circle cx="810.51" cy="243.20" r="9.9" fill="#fff"/><circle cx="810.51" cy="243.20" r="5.5" fill="#ff7d00"/>
<circle cx="814.79" cy="177.69" r="9.9" fill="#fff"/><circle cx="814.79" cy="177.69" r="5.5" fill="#ff7d00"/>
<circle cx="819.07" cy="168.58" r="9.9" fill="#fff"/><circle cx="819.07" cy="168.58" r="5.5" fill="#ff7d00"/>
<circle cx="823.35" cy="148.62" r="9.9" fill="#fff"/><circle cx="823.35" cy="148.62" r="5.5" fill="#ff7d00"/>
<circle cx="827.63" cy="247.11" r="9.9" fill="#fff"/><circle cx="827.63" cy="247.11" r="5.5" fill="#ff7d00"/>
<circle cx="831.91" cy="192.44" r="9.9" fill="#fff"/><circle cx="831.91" cy="192.44" r="5.5" fill="#ff7d00"/>
<circle cx="836.19" cy="155.12" r="9.9" fill="#fff"/><circle cx="836.19" cy="155.12" r="5.5" fill="#ff7d00"/>
<circle cx="840.47" cy="169.44" r="9.9" fill="#fff"/><circle cx="840.47" cy="169.44" r="5.5" fill="#ff7d00"/>
<circle cx="844.75" cy="221.51" r="9.9" fill="#fff"/><circle cx="844.75" cy="221.51" r="5.5" fill="#ff7d00"/>
<circle cx="849.03" cy="171.18" r="9.9" fill="#fff"/><circle cx="849.03" cy="171.18" r="5.5" fill="#ff7d00"/>
<circle cx="853.31" cy="154.26" r="9.9" fill="#fff"/><circle cx="853.31" cy="154.26" r="5.5" fill="#ff7d00"/>
<circle cx="857.59" cy="192.44" r="9.9" fill="#fff"/><circle cx="857.59" cy="192.44" r="5.5" fill="#ff7d00"/>
<circle cx="861.87" cy="221.51" r="9.9" fill="#fff"/><circle cx="861.87" cy="221.51" r="5.5" fill="#ff7d00"/>
<circle cx="866.15" cy="174.22" r="9.9" fill="#fff"/><circle cx="866.15" cy="174.22" r="5.5" fill="#ff7d00"/>
<circle cx="870.43" cy="150.79" r="9.9" fill="#fff"/><circle cx="870.43" cy="150.79" r="5.5" fill="#ff7d00"/>
<circle cx="874.71" cy="131.26" r="9.9" fill="#fff"/><circle cx="874.71" cy="131.26" r="5.5" fill="#ff7d00"/>
<circle cx="878.99" cy="219.34" r="9.9" fill="#fff"/><circle cx="878.99" cy="219.34" r="5.5" fill="#ff7d00"/>
<circle cx="883.27" cy="208.06" r="9.9" fill="#fff"/><circle cx="883.27" cy="208.06" r="5.5" fill="#ff7d00"/>
<circle cx="887.55" cy="173.35" r="9.9" fill="#fff"/><circle cx="887.55" cy="173.35" r="5.5" fill="#ff7d00"/>
<circle cx="891.83" cy="134.73" r="9.9" fill="#fff"/><circle cx="891.83" cy="134.73" r="5.5" fill="#ff7d00"/>
<circle cx="896.11" cy="213.70" r="9.9" fill="#fff"/><circle cx="896.11" cy="213.70" r="5.5" fill="#ff7d00"/>
<circle cx="900.39" cy="218.47" r="9.9" fill="#fff"/><circle cx="900.39" cy="218.47" r="5.5" fill="#ff7d00"/>
<circle cx="904.67" cy="161.20" r="9.9" fill="#fff"/><circle cx="904.67" cy="161.20" r="5.5" fill="#ff7d00"/>
<circle cx="908.95" cy="173.35" r="9.9" fill="#fff"/><circle cx="908.95" cy="173.35" r="5.5" fill="#ff7d00"/>
<circle cx="913.23" cy="234.53" r="9.9" fill="#fff"/><circle cx="913.23" cy="234.53" r="5.5" fill="#ff7d00"/>
<circle cx="917.51" cy="178.55" r="9.9" fill="#fff"/><circle cx="917.51" cy="178.55" r="5.5" fill="#ff7d00"/>
<circle cx="921.79" cy="211.10" r="9.9" fill="#fff"/><circle cx="921.79" cy="211.10" r="5.5" fill="#ff7d00"/>
<circle cx="926.07" cy="222.38" r="9.9" fill="#fff"/><circle cx="926.07" cy="222.38" r="5.5" fill="#ff7d00"/>
<circle cx="930.35" cy="173.35" r="9.9" fill="#fff"/><circle cx="930.35" cy="173.35" r="5.5" fill="#ff7d00"/>
<circle cx="934.63" cy="162.50" r="9.9" fill="#fff"/><circle cx="934.63" cy="162.50" r="5.5" fill="#ff7d00"/>
<circle cx="938.91" cy="184.20" r="9.9" fill="#fff"/><circle cx="938.91" cy="184.20" r="5.5" fill="#ff7d00"/>
<circle cx="943.19" cy="219.34" r="9.9" fill="#fff"/><circle cx="943.19" cy="219.34" r="5.5" fill="#ff7d00"/>
<circle cx="947.47" cy="178.55" r="9.9" fill="#fff"/><circle cx="947.47" cy="178.55" r="5.5" fill="#ff7d00"/>
<circle cx="951.75" cy="217.61" r="9.9" fill="#fff"/><circle cx="951.75" cy="217.61" r="5.5" fill="#ff7d00"/>
<circle cx="956.03" cy="221.08" r="9.9" fill="#fff"/><circle cx="956.03" cy="221.08" r="5.5" fill="#ff7d00"/>
<circle cx="960.31" cy="178.55" r="9.9" fill="#fff"/><circle cx="960.31" cy="178.55" r="5.5" fill="#ff7d00"/>
<circle cx="964.59" cy="139.50" r="9.9" fill="#fff"/><circle cx="964.59" cy="139.50" r="5.5" fill="#ff7d00"/>
<circle cx="968.87" cy="203.72" r="9.9" fill="#fff"/><circle cx="968.87" cy="203.72" r="5.5" fill="#ff7d00"/>
<circle cx="973.15" cy="214.57" r="9.9" fill="#fff"/><circle cx="973.15" cy="214.57" r="5.5" fill="#ff7d00"/>
<circle cx="977.43" cy="155.12" r="9.9" fill="#fff"/><circle cx="977.43" cy="155.12" r="5.5" fill="#ff7d00"/>
<circle cx="981.71" cy="143.41" r="9.9" fill="#fff"/><circle cx="981.71" cy="143.41" r="5.5" fill="#ff7d00"/>
<circle cx="985.99" cy="145.58" r="9.9" fill="#fff"/><circle cx="985.99" cy="145.58" r="5.5" fill="#ff7d00"/>
<circle cx="990.27" cy="229.32" r="9.9" fill="#fff"/><circle cx="990.27" cy="229.32" r="5.5" fill="#ff7d00"/>
<circle cx="994.55" cy="181.59" r="9.9" fill="#fff"/><circle cx="994.55" cy="181.59" r="5.5" fill="#ff7d00"/></g>
<g id="ip"><circle cx="95.75" cy="837.50" r="9.9" fill="#fff"/><circle cx="95.75" cy="837.50" r="5.5" fill="#2ca02c"/>
<circle cx="100.03" cy="837.50" r="9.9" fill="#fff"/><circle cx="100.03" cy="837.50" r="5.5" fill="#2ca02c"/>
<circle cx="104.31" cy="837.50" r="9.9" fill="#fff"/><circle cx="104.31" cy="837.50" r="5.5" fill="#2ca02c"/>
<circle cx="108.59" cy="836.63" r="9.9" fill="#fff"/><circle cx="108.59" cy="836.63" r="5.5" fill="#2ca02c"/>
<circle cx="112.87" cy="829.39" r="9.9" fill="#fff"/><circle cx="112.87" cy="829.39" r="5.5" fill="#2ca02c"/>
<circle cx="117.15" cy="837.50" r="9.9" fill="#fff"/><circle cx="117.15" cy="837.50" r="5.5" fill="#2ca02c"/>
<circle cx="121.43" cy="837.50" r="9.9" fill="#fff"/><circle cx="121.43" cy="837.50" r="5.5" fill="#2ca02c"/>
<circle cx="125.71" cy="837.50" r="9.9" fill="#fff"/><circle cx="125.71" cy="837.50" r="5.5" fill="#2ca02c"/>
<circle cx="129.99" cy="837.50" r="9.9" fill="#fff"/><circle cx="129.99" cy="837.50" r="5.5" fill="#2ca02c"/>
<circle cx="134.27" cy="837.50" r="9.9" fill="#fff"/><circle cx="134.27" cy="837.50" r="5.5" fill="#2ca02c"/>
<circle cx="138.55" cy="837.50" r="9.9" fill="#fff"/><circle cx="138.55" cy="837.50" r="5.5" fill="#2ca02c"/>
<circle cx="142.83" cy="837.50" r="9.9" fill="#fff"/><circle cx="142.83" cy="837.50" r="5.5" fill="#2ca02c"/>
<circle cx="147.11" cy="837.50" r="9.9" fill="#fff"/><circle cx="147.11" cy="837.50" r="5.5" fill="#2ca02c"/>
<circle cx="151.39" cy="837.50" r="9.9" fill="#fff"/><circle cx="151.39" cy="837.50" r="5.5" fill="#2ca02c"/>
<circle cx="155.67" cy="829.39" r="9.9" fill="#fff"/><circle cx="155.67" cy="829.39" r="5.5" fill="#2ca02c"/>
<circle cx="159.95" cy="837.50" r="9.9" fill="#fff"/><circle cx="159.95" cy="837.50" r="5.5" fill="#2ca02c"/>
<circle cx="164.23" cy="837.50" r="9.9" fill="#fff"/><circle cx="164.23" cy="837.50" r="5.5" fill="#2ca02c"/>
<circle cx="168.51" cy="837.50" r="9.9" fill="#fff"/><circle cx="168.51" cy="837.50" r="5.5" fill="#2ca02c"/>
<circle cx="172.79" cy="837.50" r="9.9" fill="#fff"/><circle cx="172.79" cy="837.50" r="5.5" fill="#2ca02c"/>
<circle cx="177.07" cy="837.50" r="9.9" fill="#fff"/><circle cx="177.07" cy="837.50" r="5.5" fill="#2ca02c"/>
<circle cx="181.35" cy="837.50" r="9.9" fill="#fff"/><circle cx="181.35" cy="837.50" r="5.5" fill="#2ca02c"/>
<circle cx="185.63" cy="837.50" r="9.9" fill="#fff"/><circle cx="185.63" cy="837.50" r="5.5" fill="#2ca02c"/>
<circle cx="189.91" cy="837.50" r="9.9" fill="#fff"/><circle cx="189.91" cy="837.50" r="5.5" fill="#2ca02c"/>
<circle cx="194.19" cy="837.50" r="9.9" fill="#fff"/><circle cx="194.19" cy="837.50" r="5.5" fill="#2ca02c"/>
<circle cx="198.47" cy="829.39" r="9.9" fill="#fff"/><circle cx="198.47" cy="829.39" r="5.5" fill="#2ca02c"/>
<circle cx="202.75" cy="837.50" r="9.9" fill="#fff"/><circle cx="202.75" cy="837.50" r="5.5" fill="#2ca02c"/>
<circle cx="207.03" cy="837.50" r="9.9" fill="#fff"/><circle cx="207.03" cy="837.50" r="5.5" fill="#2ca02c"/>
<circle cx="211.31" cy="837.50" r="9.9" fill="#fff"/><circle cx="211.31" cy="837.50" r="5.5" fill="#2ca02c"/>
<circle cx="215.59" cy="837.50" r="9.9" fill="#fff"/><circle cx="215.59" cy="837.50" r="5.5" fill="#2ca02c"/>
<circle cx="219.87" cy="837.50" r="9.9" fill="#fff"/><circle cx="219.87" cy="837.50" r="5.5" fill="#2ca02c"/>
<circle cx="224.15" cy="837.50" r="9.9" fill="#fff"/><circle cx="224.15" cy="837.50" r="5.5" fill="#2ca02c"/>
<circle cx="228.43" cy="837.50" r="9.9" fill="#fff"/><circle cx="228.43" cy="837.50" r="5.5" fill="#2ca02c"/>
<circle cx="232.71" cy="837.50" r="9.9" fill="#fff"/><circle cx="232.71" cy="837.50" r="5.5" fill="#2ca02c"/>
<circle cx="236.99" cy="837.50" r="9.9" fill="#fff"/><circle cx="236.99" cy="837.50" r="5.5" fill="#2ca02c"/>
<circle cx="241.27" cy="830.47" r="9.9" fill="#fff"/><circle cx="241.27" cy="830.47" r="5.5" fill="#2ca02c"/>
<circle cx="245.55" cy="837.50" r="9.9" fill="#fff"/><circle cx="245.55" cy="837.50" r="5.5" fill="#2ca02c"/>
<circle cx="249.83" cy="837.50" r="9.9" fill="#fff"/><circle cx="249.83" cy="837.50" r="5.5" fill="#2ca02c"/>
<circle cx="254.11" cy="837.50" r="9.9" fill="#fff"/><circle cx="254.11" cy="837.50" r="5.5" fill="#2ca02c"/>
<circle cx="258.39" cy="837.50" r="9.9" fill="#fff"/><circle cx="258.39" cy="837.50" r="5.5" fill="#2ca02c"/>
<circle cx="262.67" cy="837.50" r="9.9" fill="#fff"/><circle cx="262.67" cy="837.50" r="5.5" fill="#2ca02c"/>
<circle cx="266.95" cy="837.50" r="9.9" fill="#fff"/><circle cx="266.95" cy="837.50" r="5.5" fill="#2ca02c"/>
<circle cx="271.23" cy="837.50" r="9.9" fill="#fff"/><circle cx="271.23" cy="837.50" r="5.5" fill="#2ca02c"/>
<circle cx="275.51" cy="837.50" r="9.9" fill="#fff"/><circle cx="275.51" cy="837.50" r="5.5" fill="#2ca02c"/>
<circle cx="279.79" cy="837.50" r="9.9" fill="#fff"/><circle cx="279.79" cy="837.50" r="5.5" fill="#2ca02c"/>
<circle cx="284.07" cy="829.39" r="9.9" fill="#fff"/><circle cx="284.07" cy="829.39" r="5.5" fill="#2ca02c"/>
<circle cx="288.35" cy="837.50" r="9.9" fill="#fff"/><circle cx="288.35" cy="837.50" r="5.5" fill="#2ca02c"/>
<circle cx="292.63" cy="837.50" r="9.9" fill="#fff"/><circle cx="292.63" cy="837.50" r="5.5" fill="#2ca02c"/>
<circle cx="296.91" cy="837.50" r="9.9" fill="#fff"/><circle cx="296.91" cy="837.50" r="5.5" fill="#2ca02c"/>
<circle cx="301.19" cy="837.50" r="9.9" fill="#fff"/><circle cx="301.19" cy="837.50" r="5.5" fill="#2ca02c"/>
<circle cx="305.47" cy="837.50" r="9.9" fill="#fff"/><circle cx="305.47" cy="837.50" r="5.5" fill="#2ca02c"/>
<circle cx="309.75" cy="837.50" r="9.9" fill="#fff"/><circle cx="309.75" cy="837.50" r="5.5" fill="#2ca02c"/>
<circle cx="314.03" cy="837.50" r="9.9" fill="#fff"/><circle cx="314.03" cy="837.50" r="5.5" fill="#2ca02c"/>
<circle cx="318.31" cy="837.50" r="9.9" fill="#fff"/><circle cx="318.31" cy="837.50" r="5.5" fill="#2ca02c"/>
<circle cx="322.59" cy="837.50" r="9.9" fill="#fff"/><circle cx="322.59" cy="837.50" r="5.5" fill="#2ca02c"/>
<circle cx="326.87" cy="832.43" r="9.9" fill="#fff"/><circle cx="326.87" cy="832.43" r="5.5" fill="#2ca02c"/>
<circle cx="331.15" cy="837.50" r="9.9" fill="#fff"/><circle cx="331.15" cy="837.50" r="5.5" fill="#2ca02c"/>
<circle cx="335.43" cy="837.50" r="9.9" fill="#fff"/><circle cx="335.43" cy="837.50" r="5.5" fill="#2ca02c"/>
<circle cx="339.71" cy="837.50" r="9.9" fill="#fff"/><circle cx="339.71" cy="837.50" r="5.5" fill="#2ca02c"/>
<circle cx="343.99" cy="837.50" r="9.9" fill="#fff"/><circle cx="343.99" cy="837.50" r="5.5" fill="#2ca02c"/>
<circle cx="348.27" cy="837.50" r="9.9" fill="#fff"/><circle cx="348.27" cy="837.50" r="5.5" fill="#2ca02c"/>
<circle cx="352.55" cy="837.50" r="9.9" fill="#fff"/><circle cx="352.55" cy="837.50" r="5.5" fill="#2ca02c"/>
<circle cx="356.83" cy="837.50" r="9.9" fill="#fff"/><circle cx="356.83" cy="837.50" r="5.5" fill="#2ca02c"/>
<circle cx="361.11" cy="837.50" r="9.9" fill="#fff"/><circle cx="361.11" cy="837.50" r="5.5" fill="#2ca02c"/>
<circle cx="365.39" cy="837.50" r="9.9" fill="#fff"/><circle cx="365.39" cy="837.50" r="5.5" fill="#2ca02c"/>
<circle cx="369.67" cy="831.56" r="9.9" fill="#fff"/><circle cx="369.67" cy="831.56" r="5.5" fill="#2ca02c"/>
<circle cx="373.95" cy="837.50" r="9.9" fill="#fff"/><circle cx="373.95" cy="837.50" r="5.5" fill="#2ca02c"/>
<circle cx="378.23" cy="837.50" r="9.9" fill="#fff"/><circle cx="378.23" cy="837.50" r="5.5" fill="#2ca02c"/>
<circle cx="382.51" cy="837.50" r="9.9" fill="#fff"/><circle cx="382.51" cy="837.50" r="5.5" fill="#2ca02c"/>
<circle cx="386.79" cy="837.50" r="9.9" fill="#fff"/><circle cx="386.79" cy="837.50" r="5.5" fill="#2ca02c"/>
<circle cx="391.07" cy="837.50" r="9.9" fill="#fff"/><circle cx="391.07" cy="837.50" r="5.5" fill="#2ca02c"/>
<circle cx="395.35" cy="837.50" r="9.9" fill="#fff"/><circle cx="395.35" cy="837.50" r="5.5" fill="#2ca02c"/>
<circle cx="399.63" cy="837.50" r="9.9" fill="#fff"/><circle cx="399.63" cy="837.50" r="5.5" fill="#2ca02c"/>
<circle cx="403.91" cy="837.50" r="9.9" fill="#fff"/><circle cx="403.91" cy="837.50" r="5.5" fill="#2ca02c"/>
<circle cx="408.19" cy="837.50" r="9.9" fill="#fff"/><circle cx="408.19" cy="837.50" r="5.5" fill="#2ca02c"/>
<circle cx="412.47" cy="829.39" r="9.9" fill="#fff"/><circle cx="412.47" cy="829.39" r="5.5" fill="#2ca02c"/>
<circle cx="416.75" cy="837.50" r="9.9" fill="#fff"/><circle cx="416.75" cy="837.50" r="5.5" fill="#2ca02c"/>
<circle cx="421.03" cy="837.50" r="9.9" fill="#fff"/><circle cx="421.03" cy="837.50" r="5.5" fill="#2ca02c"/>
<circle cx="425.31" cy="837.50" r="9.9" fill="#fff"/><circle cx="425.31" cy="837.50" r="5.5" fill="#2ca02c"/>
<circle cx="429.59" cy="837.50" r="9.9" fill="#fff"/><circle cx="429.59" cy="837.50" r="5.5" fill="#2ca02c"/>
<circle cx="433.87" cy="837.50" r="9.9" fill="#fff"/><circle cx="433.87" cy="837.50" r="5.5" fill="#2ca02c"/>
<circle cx="438.15" cy="837.50" r="9.9" fill="#fff"/><circle cx="438.15" cy="837.50" r="5.5" fill="#2ca02c"/>
<circle cx="442.43" cy="837.50" r="9.9" fill="#fff"/><circle cx="442.43" cy="837.50" r="5.5" fill="#2ca02c"/>
<circle cx="446.71" cy="837.50" r="9.9" fill="#fff"/><circle cx="446.71" cy="837.50" r="5.5" fill="#2ca02c"/>
<circle cx="450.99" cy="837.50" r="9.9" fill="#fff"/><circle cx="450.99" cy="837.50" r="5.5" fill="#2ca02c"/>
<circle cx="455.27" cy="830.47" r="9.9" fill="#fff"/><circle cx="455.27" cy="830.47" r="5.5" fill="#2ca02c"/>
<circle cx="459.55" cy="837.50" r="9.9" fill="#fff"/><circle cx="459.55" cy="837.50" r="5.5" fill="#2ca02c"/>
<circle cx="463.83" cy="837.50" r="9.9" fill="#fff"/><circle cx="463.83" cy="837.50" r="5.5" fill="#2ca02c"/>
<circle cx="468.11" cy="837.50" r="9.9" fill="#fff"/><circle cx="468.11" cy="837.50" r="5.5" fill="#2ca02c"/>
<circle cx="472.39" cy="837.50" r="9.9" fill="#fff"/><circle cx="472.39" cy="837.50" r="5.5" fill="#2ca02c"/>
<circle cx="476.67" cy="837.50" r="9.9" fill="#fff"/><circle cx="476.67" cy="837.50" r="5.5" fill="#2ca02c"/>
<circle cx="480.95" cy="837.50" r="9.9" fill="#fff"/><circle cx="480.95" cy="837.50" r="5.5" fill="#2ca02c"/>
<circle cx="485.23" cy="837.50" r="9.9" fill="#fff"/><circle cx="485.23" cy="837.50" r="5.5" fill="#2ca02c"/>
<circle cx="489.51" cy="837.50" r="9.9" fill="#fff"/><circle cx="489.51" cy="837.50" r="5.5" fill="#2ca02c"/>
<circle cx="493.79" cy="837.50" r="9.9" fill="#fff"/><circle cx="493.79" cy="837.50" r="5.5" fill="#2ca02c"/>
<circle cx="498.07" cy="829.39" r="9.9" fill="#fff"/><circle cx="498.07" cy="829.39" r="5.5" fill="#2ca02c"/>
<circle cx="502.35" cy="837.50" r="9.9" fill="#fff"/><circle cx="502.35" cy="837.50" r="5.5" fill="#2ca02c"/>
<circle cx="506.63" cy="837.50" r="9.9" fill="#fff"/><circle cx="506.63" cy="837.50" r="5.5" fill="#2ca02c"/>
<circle cx="510.91" cy="837.50" r="9.9" fill="#fff"/><circle cx="510.91" cy="837.50" r="5.5" fill="#2ca02c"/>
<circle cx="515.19" cy="837.50" r="9.9" fill="#fff"/><circle cx="515.19" cy="837.50" r="5.5" fill="#2ca02c"/>
<circle cx="519.47" cy="837.50" r="9.9" fill="#fff"/><circle cx="519.47" cy="837.50" r="5.5" fill="#2ca02c"/>
<circle cx="523.75" cy="837.50" r="9.9" fill="#fff"/><circle cx="523.75" cy="837.50" r="5.5" fill="#2ca02c"/>
<circle cx="528.03" cy="837.50" r="9.9" fill="#fff"/><circle cx="528.03" cy="837.50" r="5.5" fill="#2ca02c"/>
<circle cx="532.31" cy="837.50" r="9.9" fill="#fff"/><circle cx="532.31" cy="837.50" r="5.5" fill="#2ca02c"/>
<circle cx="536.59" cy="837.50" r="9.9" fill="#fff"/><circle cx="536.59" cy="837.50" r="5.5" fill="#2ca02c"/>
<circle cx="540.87" cy="829.39" r="9.9" fill="#fff"/><circle cx="540.87" cy="829.39" r="5.5" fill="#2ca02c"/>
<circle cx="545.15" cy="837.50" r="9.9" fill="#fff"/><circle cx="545.15" cy="837.50" r="5.5" fill="#2ca02c"/>
<circle cx="549.43" cy="837.50" r="9.9" fill="#fff"/><circle cx="549.43" cy="837.50" r="5.5" fill="#2ca02c"/>
<circle cx="553.71" cy="837.50" r="9.9" fill="#fff"/><circle cx="553.71" cy="837.50" r="5.5" fill="#2ca02c"/>
<circle cx="557.99" cy="837.50" r="9.9" fill="#fff"/><circle cx="557.99" cy="837.50" r="5.5" fill="#2ca02c"/>
<circle cx="562.27" cy="837.50" r="9.9" fill="#fff"/><circle cx="562.27" cy="837.50" r="5.5" fill="#2ca02c"/>
<circle cx="566.55" cy="837.50" r="9.9" fill="#fff"/><circle cx="566.55" cy="837.50" r="5.5" fill="#2ca02c"/>
<circle cx="570.83" cy="837.50" r="9.9" fill="#fff"/><circle cx="570.83" cy="837.50" r="5.5" fill="#2ca02c"/>
<circle cx="575.11" cy="837.50" r="9.9" fill="#fff"/><circle cx="575.11" cy="837.50" r="5.5" fill="#2ca02c"/>
<circle cx="579.39" cy="837.50" r="9.9" fill="#fff"/><circle cx="579.39" cy="837.50" r="5.5" fill="#2ca02c"/>
<circle cx="583.67" cy="829.39" r="9.9" fill="#fff"/><circle cx="583.67" cy="829.39" r="5.5" fill="#2ca02c"/>
<circle cx="587.95" cy="837.50" r="9.9" fill="#fff"/><circle cx="587.95" cy="837.50" r="5.5" fill="#2ca02c"/>
<circle cx="592.23" cy="837.50" r="9.9" fill="#fff"/><circle cx="592.23" cy="837.50" r="5.5" fill="#2ca02c"/>
<circle cx="596.51" cy="837.50" r="9.9" fill="#fff"/><circle cx="596.51" cy="837.50" r="5.5" fill="#2ca02c"/>
<circle cx="600.79" cy="837.50" r="9.9" fill="#fff"/><circle cx="600.79" cy="837.50" r="5.5" fill="#2ca02c"/>
<circle cx="605.07" cy="837.50" r="9.9" fill="#fff"/><circle cx="605.07" cy="837.50" r="5.5" fill="#2ca02c"/>
<circle cx="609.35" cy="837.50" r="9.9" fill="#fff"/><circle cx="609.35" cy="837.50" r="5.5" fill="#2ca02c"/>
<circle cx="613.63" cy="837.50" r="9.9" fill="#fff"/><circle cx="613.63" cy="837.50" r="5.5" fill="#2ca02c"/>
<circle cx="617.91" cy="837.50" r="9.9" fill="#fff"/><circle cx="617.91" cy="837.50" r="5.5" fill="#2ca02c"/>
<circle cx="622.19" cy="837.50" r="9.9" fill="#fff"/><circle cx="622.19" cy="837.50" r="5.5" fill="#2ca02c"/>
<circle cx="626.47" cy="830.47" r="9.9" fill="#fff"/><circle cx="626.47" cy="830.47" r="5.5" fill="#2ca02c"/>
<circle cx="630.75" cy="837.50" r="9.9" fill="#fff"/><circle cx="630.75" cy="837.50" r="5.5" fill="#2ca02c"/>
<circle cx="635.03" cy="837.50" r="9.9" fill="#fff"/><circle cx="635.03" cy="837.50" r="5.5" fill="#2ca02c"/>
<circle cx="639.31" cy="837.50" r="9.9" fill="#fff"/><circle cx="639.31" cy="837.50" r="5.5" fill="#2ca02c"/>
<circle cx="643.59" cy="837.50" r="9.9" fill="#fff"/><circle cx="643.59" cy="837.50" r="5.5" fill="#2ca02c"/>
<circle cx="647.87" cy="837.50" r="9.9" fill="#fff"/><circle cx="647.87" cy="837.50" r="5.5" fill="#2ca02c"/>
<circle cx="652.15" cy="837.50" r="9.9" fill="#fff"/><circle cx="652.15" cy="837.50" r="5.5" fill="#2ca02c"/>
<circle cx="656.43" cy="837.50" r="9.9" fill="#fff"/><circle cx="656.43" cy="837.50" r="5.5" fill="#2ca02c"/>
<circle cx="660.71" cy="837.50" r="9.9" fill="#fff"/><circle cx="660.71" cy="837.50" r="5.5" fill="#2ca02c"/>
<circle cx="664.99" cy="837.50" r="9.9" fill="#fff"/><circle cx="664.99" cy="837.50" r="5.5" fill="#2ca02c"/>
<circle cx="669.27" cy="829.39" r="9.9" fill="#fff"/><circle cx="669.27" cy="829.39" r="5.5" fill="#2ca02c"/>
<circle cx="673.55" cy="837.50" r="9.9" fill="#fff"/><circle cx="673.55" cy="837.50" r="5.5" fill="#2ca02c"/>
<circle cx="677.83" cy="837.50" r="9.9" fill="#fff"/><circle cx="677.83" cy="837.50" r="5.5" fill="#2ca02c"/>
<circle cx="682.11" cy="837.50" r="9.9" fill="#fff"/><circle cx="682.11" cy="837.50" r="5.5" fill="#2ca02c"/>
<circle cx="686.39" cy="837.50" r="9.9" fill="#fff"/><circle cx="686.39" cy="837.50" r="5.5" fill="#2ca02c"/>
<circle cx="690.67" cy="837.50" r="9.9" fill="#fff"/><circle cx="690.67" cy="837.50" r="5.5" fill="#2ca02c"/>
<circle cx="694.95" cy="837.50" r="9.9" fill="#fff"/><circle cx="694.95" cy="837.50" r="5.5" fill="#2ca02c"/>
<circle cx="699.23" cy="837.50" r="9.9" fill="#fff"/><circle cx="699.23" cy="837.50" r="5.5" fill="#2ca02c"/>
<circle cx="703.51" cy="837.50" r="9.9" fill="#fff"/><circle cx="703.51" cy="837.50" r="5.5" fill="#2ca02c"/>
<circle cx="707.79" cy="837.50" r="9.9" fill="#fff"/><circle cx="707.79" cy="837.50" r="5.5" fill="#2ca02c"/>
<circle cx="712.07" cy="831.56" r="9.9" fill="#fff"/><circle cx="712.07" cy="831.56" r="5.5" fill="#2ca02c"/>
<circle cx="716.35" cy="837.50" r="9.9" fill="#fff"/><circle cx="716.35" cy="837.50" r="5.5" fill="#2ca02c"/>
<circle cx="720.63" cy="837.50" r="9.9" fill="#fff"/><circle cx="720.63" cy="837.50" r="5.5" fill="#2ca02c"/>
<circle cx="724.91" cy="837.50" r="9.9" fill="#fff"/><circle cx="724.91" cy="837.50" r="5.5" fill="#2ca02c"/>
<circle cx="729.19" cy="837.50" r="9.9" fill="#fff"/><circle cx="729.19" cy="837.50" r="5.5" fill="#2ca02c"/>
<circle cx="733.47" cy="837.50" r="9.9" fill="#fff"/><circle cx="733.47" cy="837.50" r="5.5" fill="#2ca02c"/>
<circle cx="737.75" cy="837.50" r="9.9" fill="#fff"/><circle cx="737.75" cy="837.50" r="5.5" fill="#2ca02c"/>
<circle cx="742.03" cy="837.50" r="9.9" fill="#fff"/><circle cx="742.03" cy="837.50" r="5.5" fill="#2ca02c"/>
<circle cx="746.31" cy="837.50" r="9.9" fill="#fff"/><circle cx="746.31" cy="837.50" r="5.5" fill="#2ca02c"/>
<circle cx="750.59" cy="837.50" r="9.9" fill="#fff"/><circle cx="750.59" cy="837.50" r="5.5" fill="#2ca02c"/>
<circle cx="754.87" cy="832.43" r="9.9" fill="#fff"/><circle cx="754.87" cy="832.43" r="5.5" fill="#2ca02c"/>
<circle cx="759.15" cy="837.50" r="9.9" fill="#fff"/><circle cx="759.15" cy="837.50" r="5.5" fill="#2ca02c"/>
<circle cx="763.43" cy="837.50" r="9.9" fill="#fff"/><circle cx="763.43" cy="837.50" r="5.5" fill="#2ca02c"/>
<circle cx="767.71" cy="837.50" r="9.9" fill="#fff"/><circle cx="767.71" cy="837.50" r="5.5" fill="#2ca02c"/>
<circle cx="771.99" cy="837.50" r="9.9" fill="#fff"/><circle cx="771.99" cy="837.50" r="5.5" fill="#2ca02c"/>
<circle cx="776.27" cy="837.50" r="9.9" fill="#fff"/><circle cx="776.27" cy="837.50" r="5.5" fill="#2ca02c"/>
<circle cx="780.55" cy="837.50" r="9.9" fill="#fff"/><circle cx="780.55" cy="837.50" r="5.5" fill="#2ca02c"/>
<circle cx="784.83" cy="837.50" r="9.9" fill="#fff"/><circle cx="784.83" cy="837.50" r="5.5" fill="#2ca02c"/>
<circle cx="789.11" cy="837.50" r="9.9" fill="#fff"/><circle cx="789.11" cy="837.50" r="5.5" fill="#2ca02c"/>
<circle cx="793.39" cy="837.50" r="9.9" fill="#fff"/><circle cx="793.39" cy="837.50" r="5.5" fill="#2ca02c"/>
<circle cx="797.67" cy="829.39" r="9.9" fill="#fff"/><circle cx="797.67" cy="829.39" r="5.5" fill="#2ca02c"/>
<circle cx="801.95" cy="837.50" r="9.9" fill="#fff"/><circle cx="801.95" cy="837.50" r="5.5" fill="#2ca02c"/>
<circle cx="806.23" cy="837.50" r="9.9" fill="#fff"/><circle cx="806.23" cy="837.50" r="5.5" fill="#2ca02c"/>
<circle cx="810.51" cy="837.50" r="9.9" fill="#fff"/><circle cx="810.51" cy="837.50" r="5.5" fill="#2ca02c"/>
<circle cx="814.79" cy="837.50" r="9.9" fill="#fff"/><circle cx="814.79" cy="837.50" r="5.5" fill="#2ca02c"/>
<circle cx="819.07" cy="837.50" r="9.9" fill="#fff"/><circle cx="819.07" cy="837.50" r="5.5" fill="#2ca02c"/>
<circle cx="823.35" cy="837.50" r="9.9" fill="#fff"/><circle cx="823.35" cy="837.50" r="5.5" fill="#2ca02c"/>
<circle cx="827.63" cy="837.50" r="9.9" fill="#fff"/><circle cx="827.63" cy="837.50" r="5.5" fill="#2ca02c"/>
<circle cx="831.91" cy="837.50" r="9.9" fill="#fff"/><circle cx="831.91" cy="837.50" r="5.5" fill="#2ca02c"/>
<circle cx="836.19" cy="837.50" r="9.9" fill="#fff"/><circle cx="836.19" cy="837.50" r="5.5" fill="#2ca02c"/>
<circle cx="840.47" cy="831.56" r="9.9" fill="#fff"/><circle cx="840.47" cy="831.56" r="5.5" fill="#2ca02c"/>
<circle cx="844.75" cy="837.50" r="9.9" fill="#fff"/><circle cx="844.75" cy="837.50" r="5.5" fill="#2ca02c"/>
<circle cx="849.03" cy="837.50" r="9.9" fill="#fff"/><circle cx="849.03" cy="837.50" r="5.5" fill="#2ca02c"/>
<circle cx="853.31" cy="837.50" r="9.9" fill="#fff"/><circle cx="853.31" cy="837.50" r="5.5" fill="#2ca02c"/>
<circle cx="857.59" cy="837.50" r="9.9" fill="#fff"/><circle cx="857.59" cy="837.50" r="5.5" fill="#2ca02c"/>
<circle cx="861.87" cy="837.50" r="9.9" fill="#fff"/><circle cx="861.87" cy="837.50" r="5.5" fill="#2ca02c"/>
<circle cx="866.15" cy="837.50" r="9.9" fill="#fff"/><circle cx="866.15" cy="837.50" r="5.5" fill="#2ca02c"/>
<circle cx="870.43" cy="837.50" r="9.9" fill="#fff"/><circle cx="870.43" cy="837.50" r="5.5" fill="#2ca02c"/>
<circle cx="874.71" cy="837.50" r="9.9" fill="#fff"/><circle cx="874.71" cy="837.50" r="5.5" fill="#2ca02c"/>
<circle cx="878.99" cy="837.50" r="9.9" fill="#fff"/><circle cx="878.99" cy="837.50" r="5.5" fill="#2ca02c"/>
<circle cx="883.27" cy="830.47" r="9.9" fill="#fff"/><circle cx="883.27" cy="830.47" r="5.5" fill="#2ca02c"/>
<circle cx="887.55" cy="837.50" r="9.9" fill="#fff"/><circle cx="887.55" cy="837.50" r="5.5" fill="#2ca02c"/>
<circle cx="891.83" cy="837.50" r="9.9" fill="#fff"/><circle cx="891.83" cy="837.50" r="5.5" fill="#2ca02c"/>
<circle cx="896.11" cy="837.50" r="9.9" fill="#fff"/><circle cx="896.11" cy="837.50" r="5.5" fill="#2ca02c"/>
<circle cx="900.39" cy="837.50" r="9.9" fill="#fff"/><circle cx="900.39" cy="837.50" r="5.5" fill="#2ca02c"/>
<circle cx="904.67" cy="837.50" r="9.9" fill="#fff"/><circle cx="904.67" cy="837.50" r="5.5" fill="#2ca02c"/>
<circle cx="908.95" cy="837.50" r="9.9" fill="#fff"/><circle cx="908.95" cy="837.50" r="5.5" fill="#2ca02c"/>
<circle cx="913.23" cy="837.50" r="9.9" fill="#fff"/><circle cx="913.23" cy="837.50" r="5.5" fill="#2ca02c"/>
<circle cx="917.51" cy="837.50" r="9.9" fill="#fff"/><circle cx="917.51" cy="837.50" r="5.5" fill="#2ca02c"/>
<circle cx="921.79" cy="837.50" r="9.9" fill="#fff"/><circle cx="921.79" cy="837.50" r="5.5" fill="#2ca02c"/>
<circle cx="926.07" cy="829.39" r="9.9" fill="#fff"/><circle cx="926.07" cy="829.39" r="5.5" fill="#2ca02c"/>
<circle cx="930.35" cy="837.50" r="9.9" fill="#fff"/><circle cx="930.35" cy="837.50" r="5.5" fill="#2ca02c"/>
<circle cx="934.63" cy="837.50" r="9.9" fill="#fff"/><circle cx="934.63" cy="837.50" r="5.5" fill="#2ca02c"/>
<circle cx="938.91" cy="837.50" r="9.9" fill="#fff"/><circle cx="938.91" cy="837.50" r="5.5" fill="#2ca02c"/>
<circle cx="943.19" cy="837.50" r="9.9" fill="#fff"/><circle cx="943.19" cy="837.50" r="5.5" fill="#2ca02c"/>
<circle cx="947.47" cy="837.50" r="9.9" fill="#fff"/><circle cx="947.47" cy="837.50" r="5.5" fill="#2ca02c"/>
<circle cx="951.75" cy="837.50" r="9.9" fill="#fff"/><circle cx="951.75" cy="837.50" r="5.5" fill="#2ca02c"/>
<circle cx="956.03" cy="837.50" r="9.9" fill="#fff"/><circle cx="956.03" cy="837.50" r="5.5" fill="#2ca02c"/>
<circle cx="960.31" cy="837.50" r="9.9" fill="#fff"/><circle cx="960.31" cy="837.50" r="5.5" fill="#2ca02c"/>
<circle cx="964.59" cy="837.50" r="9.9" fill="#fff"/><circle cx="964.59" cy="837.50" r="5.5" fill="#2ca02c"/>
<circle cx="968.87" cy="829.39" r="9.9" fill="#fff"/><circle cx="968.87" cy="829.39" r="5.5" fill="#2ca02c"/>
<circle cx="973.15" cy="837.50" r="9.9" fill="#fff"/><circle cx="973.15" cy="837.50" r="5.5" fill="#2ca02c"/>
<circle cx="977.43" cy="837.50" r="9.9" fill="#fff"/><circle cx="977.43" cy="837.50" r="5.5" fill="#2ca02c"/>
<circle cx="981.71" cy="837.50" r="9.9" fill="#fff"/><circle cx="981.71" cy="837.50" r="5.5" fill="#2ca02c"/>
<circle cx="985.99" cy="837.50" r="9.9" fill="#fff"/><circle cx="985.99" cy="837.50" r="5.5" fill="#2ca02c"/>
<circle cx="990.27" cy="837.50" r="9.9" fill="#fff"/><circle cx="990.27" cy="837.50" r="5.5" fill="#2ca02c"/>
<circle cx="994.55" cy="837.50" r="9.9" fill="#fff"/><circle cx="994.55" cy="837.50" r="5.5" fill="#2ca02c"/></g>
<path d="M95.5,57.5 V838.5 H1165.5" stroke="#000" stroke-width="1.2" fill="none" stroke-linecap="square"/>
</svg>
</div>
</body></html>
